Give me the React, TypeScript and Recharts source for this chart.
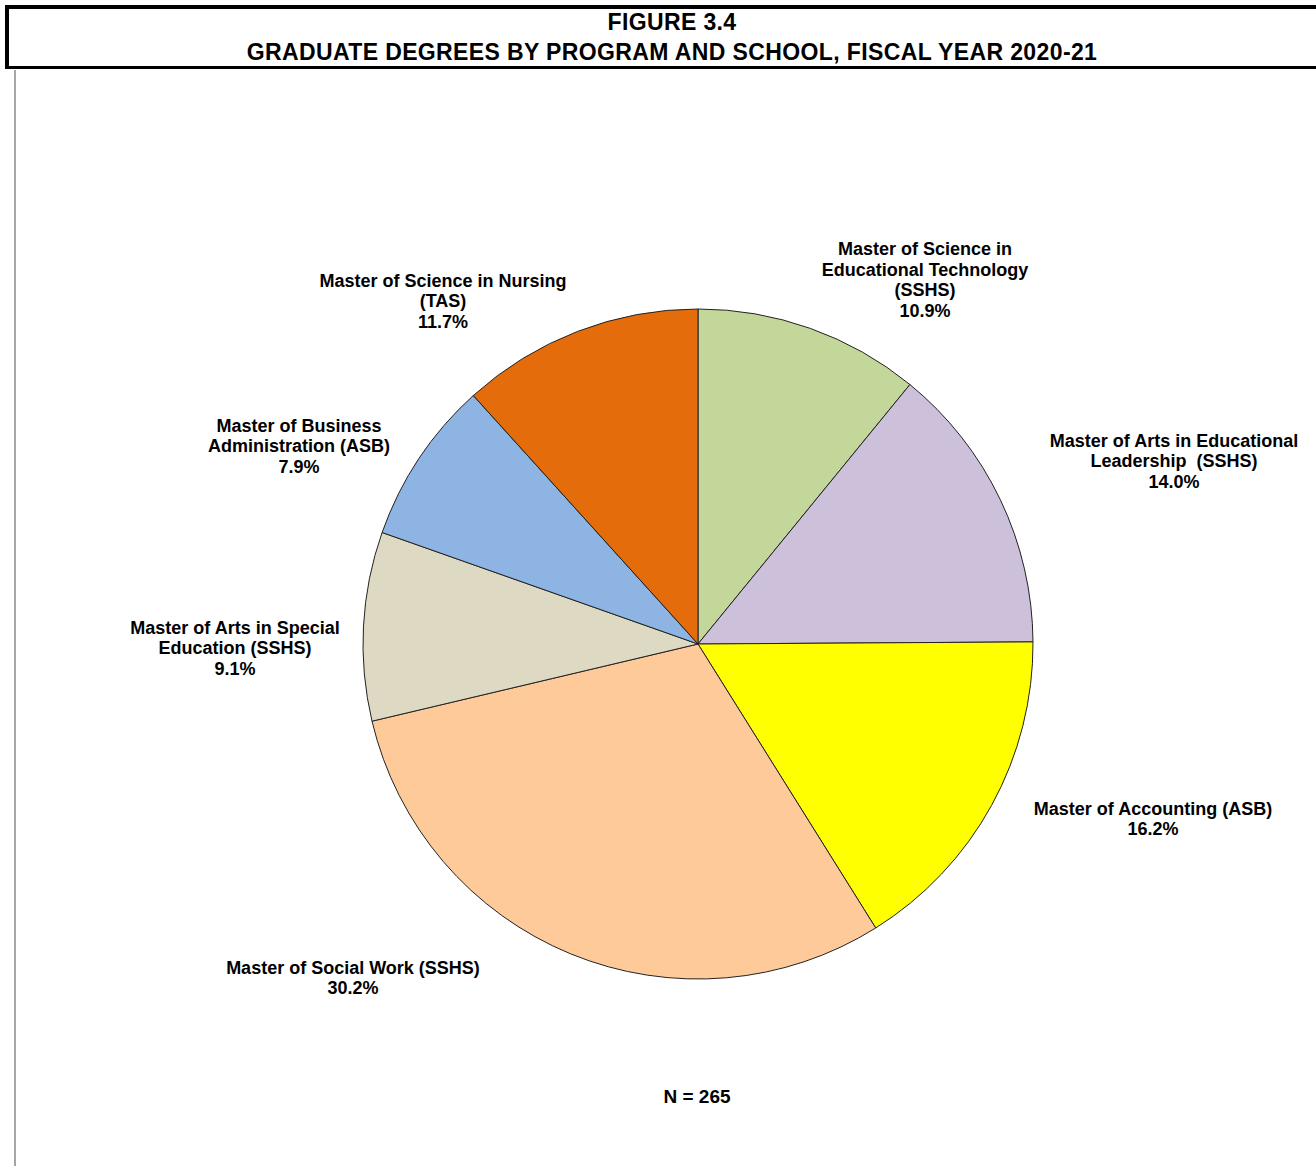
import React from "react";
import { PieChart, Pie, Cell } from "recharts";

const programs = [
  ["Master of Science in", "Educational Technology", "(SSHS)"],
  ["Master of Arts in Educational", "Leadership  (SSHS)"],
  ["Master of Accounting (ASB)"],
  ["Master of Social Work (SSHS)"],
  ["Master of Arts in Special", "Education (SSHS)"],
  ["Master of Business", "Administration (ASB)"],
  ["Master of Science in Nursing", "(TAS)"],
];
const percents = [10.9, 14.0, 16.2, 30.2, 9.1, 7.9, 11.7];
const sliceColors = ["#C4D79B", "#CCC0DA", "#FFFF00", "#FFCA99", "#DDD9C3", "#8EB4E3", "#E46C0A"];
const titleLines = ["FIGURE 3.4", "GRADUATE DEGREES BY PROGRAM AND SCHOOL, FISCAL YEAR 2020-21"];
const footnote = "N = 265";

// label placement (offset of label block centre from pie centre)
const labelLayout = [
  { dx: 227, dy: -364 },
  { dx: 476, dy: -183 },
  { dx: 455, dy: 175 },
  { dx: -345, dy: 334 },
  { dx: -463, dy: 4 },
  { dx: -399, dy: -198 },
  { dx: -255, dy: -343 },
];

const data = programs.map((lines, i) => ({
  name: lines.join(" "),
  lines,
  value: percents[i],
}));

const FONT = "'Liberation Sans', Arial, sans-serif";
const CX = 698;
const CY = 644;

const renderLabel = (props: any) => {
  const { index } = props;
  const lay = labelLayout[index];
  const lines: string[] = [...data[index].lines, `${data[index].value.toFixed(1)}%`];
  const lh = 20.5;
  const x = CX + lay.dx;
  const y0 = CY + lay.dy - ((lines.length - 1) * lh) / 2;
  return (
    <text
      key={`lbl-${index}`}
      x={x}
      y={y0}
      textAnchor="middle"
      fontFamily={FONT}
      fontWeight="bold"
      fontSize={18}
      fill="#000"
    >
      {lines.map((l, k) => (
        <tspan key={k} x={x} y={y0 + k * lh} dominantBaseline="central" style={{ whiteSpace: "pre" }}>
          {l}
        </tspan>
      ))}
    </text>
  );
};

export default function App() {
  return (
    <div style={{ position: "absolute", left: 0, top: 0, width: 1316, height: 1166, background: "#fff", overflow: "hidden" }}>
      <div
        style={{
          position: "absolute",
          left: 5,
          top: 5,
          width: 1340,
          height: 57,
          borderLeft: "4px solid #000",
          borderTop: "4px solid #000",
          borderBottom: "3px solid #000",
          boxSizing: "content-box",
        }}
      />
      <div style={{ position: "absolute", left: 14, top: 70, width: 1.5, height: 1100, background: "#a6a6a6" }} />
      {titleLines.map((t, i) => (
        <div
          key={i}
          style={{
            position: "absolute",
            left: 172,
            width: 1000,
            top: i === 0 ? 10 : 40,
            textAlign: "center",
            fontFamily: FONT,
            fontWeight: "bold",
            fontSize: 23,
            letterSpacing: 0.38,
            lineHeight: "24px",
            color: "#000",
            whiteSpace: "nowrap",
          }}
        >
          {t}
        </div>
      ))}
      <div style={{ position: "absolute", left: 0, top: 0 }}>
        <PieChart width={1316} height={1166} margin={{ top: 0, right: 0, bottom: 0, left: 0 }}>
          <Pie
            data={data}
            dataKey="value"
            nameKey="name"
            cx={CX}
            cy={CY}
            outerRadius={335}
            startAngle={90}
            endAngle={-270}
            stroke="#222"
            strokeWidth={1}
            label={renderLabel}
            labelLine={false}
            isAnimationActive={false}
          >
            {data.map((d, i) => (
              <Cell key={d.name} fill={sliceColors[i]} />
            ))}
          </Pie>
        </PieChart>
      </div>
      <div
        style={{
          position: "absolute",
          left: 597,
          width: 200,
          top: 1086,
          textAlign: "center",
          fontFamily: FONT,
          fontWeight: "bold",
          fontSize: 19,
          lineHeight: "22px",
        }}
      >
        {footnote}
      </div>
    </div>
  );
}
